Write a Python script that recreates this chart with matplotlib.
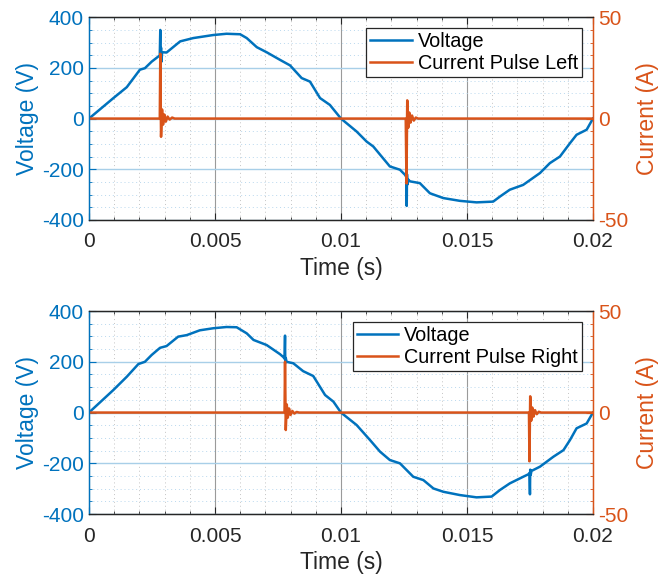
import matplotlib.pyplot as plt
from matplotlib.ticker import MultipleLocator

plt.rcParams['font.family'] = ['Liberation Sans', 'DejaVu Sans']
plt.rcParams['axes.unicode_minus'] = False

blue = '#0072BD'
orange = '#D95319'
dark = '#262626'

# top plot: voltage with left pulse
t_v1 = [0, 0.00097, 0.0015, 0.00202, 0.00222, 0.00249, 0.00275, 0.00281, 0.00283, 0.00284,
        0.00286, 0.00288, 0.0029, 0.00308, 0.00362, 0.00414, 0.00493, 0.00546, 0.006, 0.00626,
        0.00666, 0.00705, 0.00758, 0.00798, 0.00844, 0.00877, 0.00917, 0.00956, 0.01, 0.01062,
        0.01102, 0.01128, 0.01194, 0.01234, 0.01254, 0.01259, 0.01261, 0.01262, 0.01264, 0.01266,
        0.01274, 0.01313, 0.01353, 0.01406, 0.01472, 0.01538, 0.01604, 0.01631, 0.0167, 0.01723,
        0.0179, 0.01829, 0.01869, 0.01909, 0.01935, 0.01975, 0.02]
v1 = [0, 81, 124, 193, 199, 225, 245, 250, 350, 240,
      280, 225, 262, 261, 305, 318, 330, 335, 333, 318,
      282, 262, 232, 210, 160, 146, 81, 54, 0, -51,
      -91, -110, -189, -202, -222, -230, -345, -220, -260, -240,
      -248, -255, -295, -314, -325, -331, -328, -308, -281, -262,
      -215, -176, -150, -97, -64, -44, 0]

t_i1 = [0, 0.00281, 0.00283, 0.00286, 0.0029, 0.00294, 0.00299, 0.00305, 0.00312, 0.0032,
        0.0033, 0.0034, 0.01257, 0.0126, 0.01263, 0.01267, 0.01271, 0.01276, 0.01282, 0.01289,
        0.01297, 0.01306, 0.02]
i1 = [0, 0, 32, -9, 4.5, -3, 2, -1.5, 1, -0.5,
      0.5, 0, 0, -32, 9, -4.5, 3, -2, 1.5, -1,
      0.5, 0, 0]

# bottom plot: voltage with right pulse
t_v2 = [0, 0.00097, 0.0015, 0.00196, 0.00222, 0.00249, 0.00282, 0.00308, 0.00354, 0.00388,
        0.0044, 0.00493, 0.00546, 0.00586, 0.00626, 0.00653, 0.00705, 0.00758, 0.00772, 0.00776,
        0.00778, 0.00779, 0.00781, 0.00784, 0.00811, 0.0085, 0.0089, 0.00937, 0.0097, 0.01,
        0.01062, 0.01115, 0.01155, 0.01194, 0.01234, 0.01287, 0.01327, 0.01367, 0.01406, 0.01472,
        0.01538, 0.01598, 0.01631, 0.0167, 0.01723, 0.01744, 0.01748, 0.0175, 0.01751, 0.01753,
        0.01756, 0.0179, 0.01843, 0.01883, 0.01909, 0.01935, 0.01975, 0.02]
v2 = [0, 89, 141, 191, 200, 227, 255, 262, 299, 305,
      324, 332, 337, 336, 312, 286, 266, 230, 218, 212,
      303, 195, 215, 200, 194, 163, 144, 69, 43, 0,
      -49, -108, -154, -187, -200, -253, -266, -299, -312, -325,
      -334, -331, -305, -279, -253, -243, -238, -322, -225, -245,
      -230, -213, -174, -148, -108, -62, -43, 0]

t_i2 = [0, 0.00776, 0.00778, 0.00781, 0.00785, 0.00789, 0.00794, 0.008, 0.00807, 0.00815,
        0.00824, 0.00834, 0.01746, 0.01748, 0.01751, 0.01755, 0.01759, 0.01764, 0.0177, 0.01777,
        0.01785, 0.01794, 0.02]
i2 = [0, 0, 25, -8.6, 4, -2.5, 2, -1.2, 0.8, -0.5,
      0.3, 0, 0, -24, 8, -4, 2.5, -2, 1.2, -0.8,
      0.4, 0, 0]

xticks = [0, 0.005, 0.01, 0.015, 0.02]
xlabels = ['0', '0.005', '0.01', '0.015', '0.02']
vticks = [-400, -200, 0, 200, 400]
iticks = [-50, 0, 50]

fig = plt.figure(figsize=(6.64, 5.77), dpi=100)
ax_top = fig.add_axes([0.134, 0.619, 0.759, 0.351])
ax_bot = fig.add_axes([0.134, 0.109, 0.759, 0.352])


def draw(ax, t_v, v, t_i, i, label2):
    ax.set_axisbelow(True)
    l1, = ax.plot(t_v, v, color=blue, lw=1.8, label='Voltage')
    ax.set_xlim(0, 0.02)
    ax.set_ylim(-400, 400)
    ax.set_xticks(xticks)
    ax.set_xticklabels(xlabels)
    ax.set_yticks(vticks)
    ax.xaxis.set_minor_locator(MultipleLocator(0.001))
    ax.yaxis.set_minor_locator(MultipleLocator(50))
    ax.xaxis.grid(True, which='major', color='#9a9a9a', lw=0.8)
    ax.yaxis.grid(True, which='major', color='#a8cfe8', lw=1.0)
    ax.xaxis.grid(True, which='minor', color='#c4c4c4', lw=0.7, ls=(0, (1, 3)))
    ax.yaxis.grid(True, which='minor', color='#b9d8ee', lw=0.7, ls=(0, (1, 3)))
    ax.tick_params(axis='x', which='both', direction='in', top=True, colors=dark, labelsize=15, pad=9)
    ax.tick_params(axis='y', which='both', direction='in', colors=blue, labelsize=15)
    ax.tick_params(which='major', length=5)
    ax.tick_params(which='minor', length=2.5)
    ax.set_xlabel('Time (s)', fontsize=16.5, color=dark, labelpad=4)
    ax.set_ylabel('Voltage (V)', fontsize=16.5, color=blue, labelpad=2)

    axr = ax.twinx()
    l2, = axr.plot(t_i, i, color=orange, lw=1.8, label=label2)
    axr.set_ylim(-50, 50)
    axr.set_yticks(iticks)
    axr.yaxis.set_minor_locator(MultipleLocator(6.25))
    axr.tick_params(axis='y', which='both', direction='in', colors=orange, labelsize=15)
    axr.tick_params(which='major', length=5)
    axr.tick_params(which='minor', length=2.5)
    axr.set_ylabel('Current (A)', fontsize=16.5, color=orange, labelpad=6)

    for a in (ax, axr):
        a.spines['left'].set_color(blue)
        a.spines['right'].set_color(orange)
        a.spines['top'].set_color(dark)
        a.spines['bottom'].set_color(dark)
        for s in a.spines.values():
            s.set_linewidth(0.9)

    leg = axr.legend([l1, l2], ['Voltage', label2], loc='upper right', fontsize=14.3,
                     fancybox=False, framealpha=1, edgecolor=dark, handlelength=2.1,
                     handletextpad=0.3, borderpad=0.2, labelspacing=0.15,
                     borderaxespad=0.55)
    leg.get_frame().set_linewidth(0.9)


draw(ax_top, t_v1, v1, t_i1, i1, 'Current Pulse Left')
draw(ax_bot, t_v2, v2, t_i2, i2, 'Current Pulse Right')

fig.savefig('out.png', dpi=100)
